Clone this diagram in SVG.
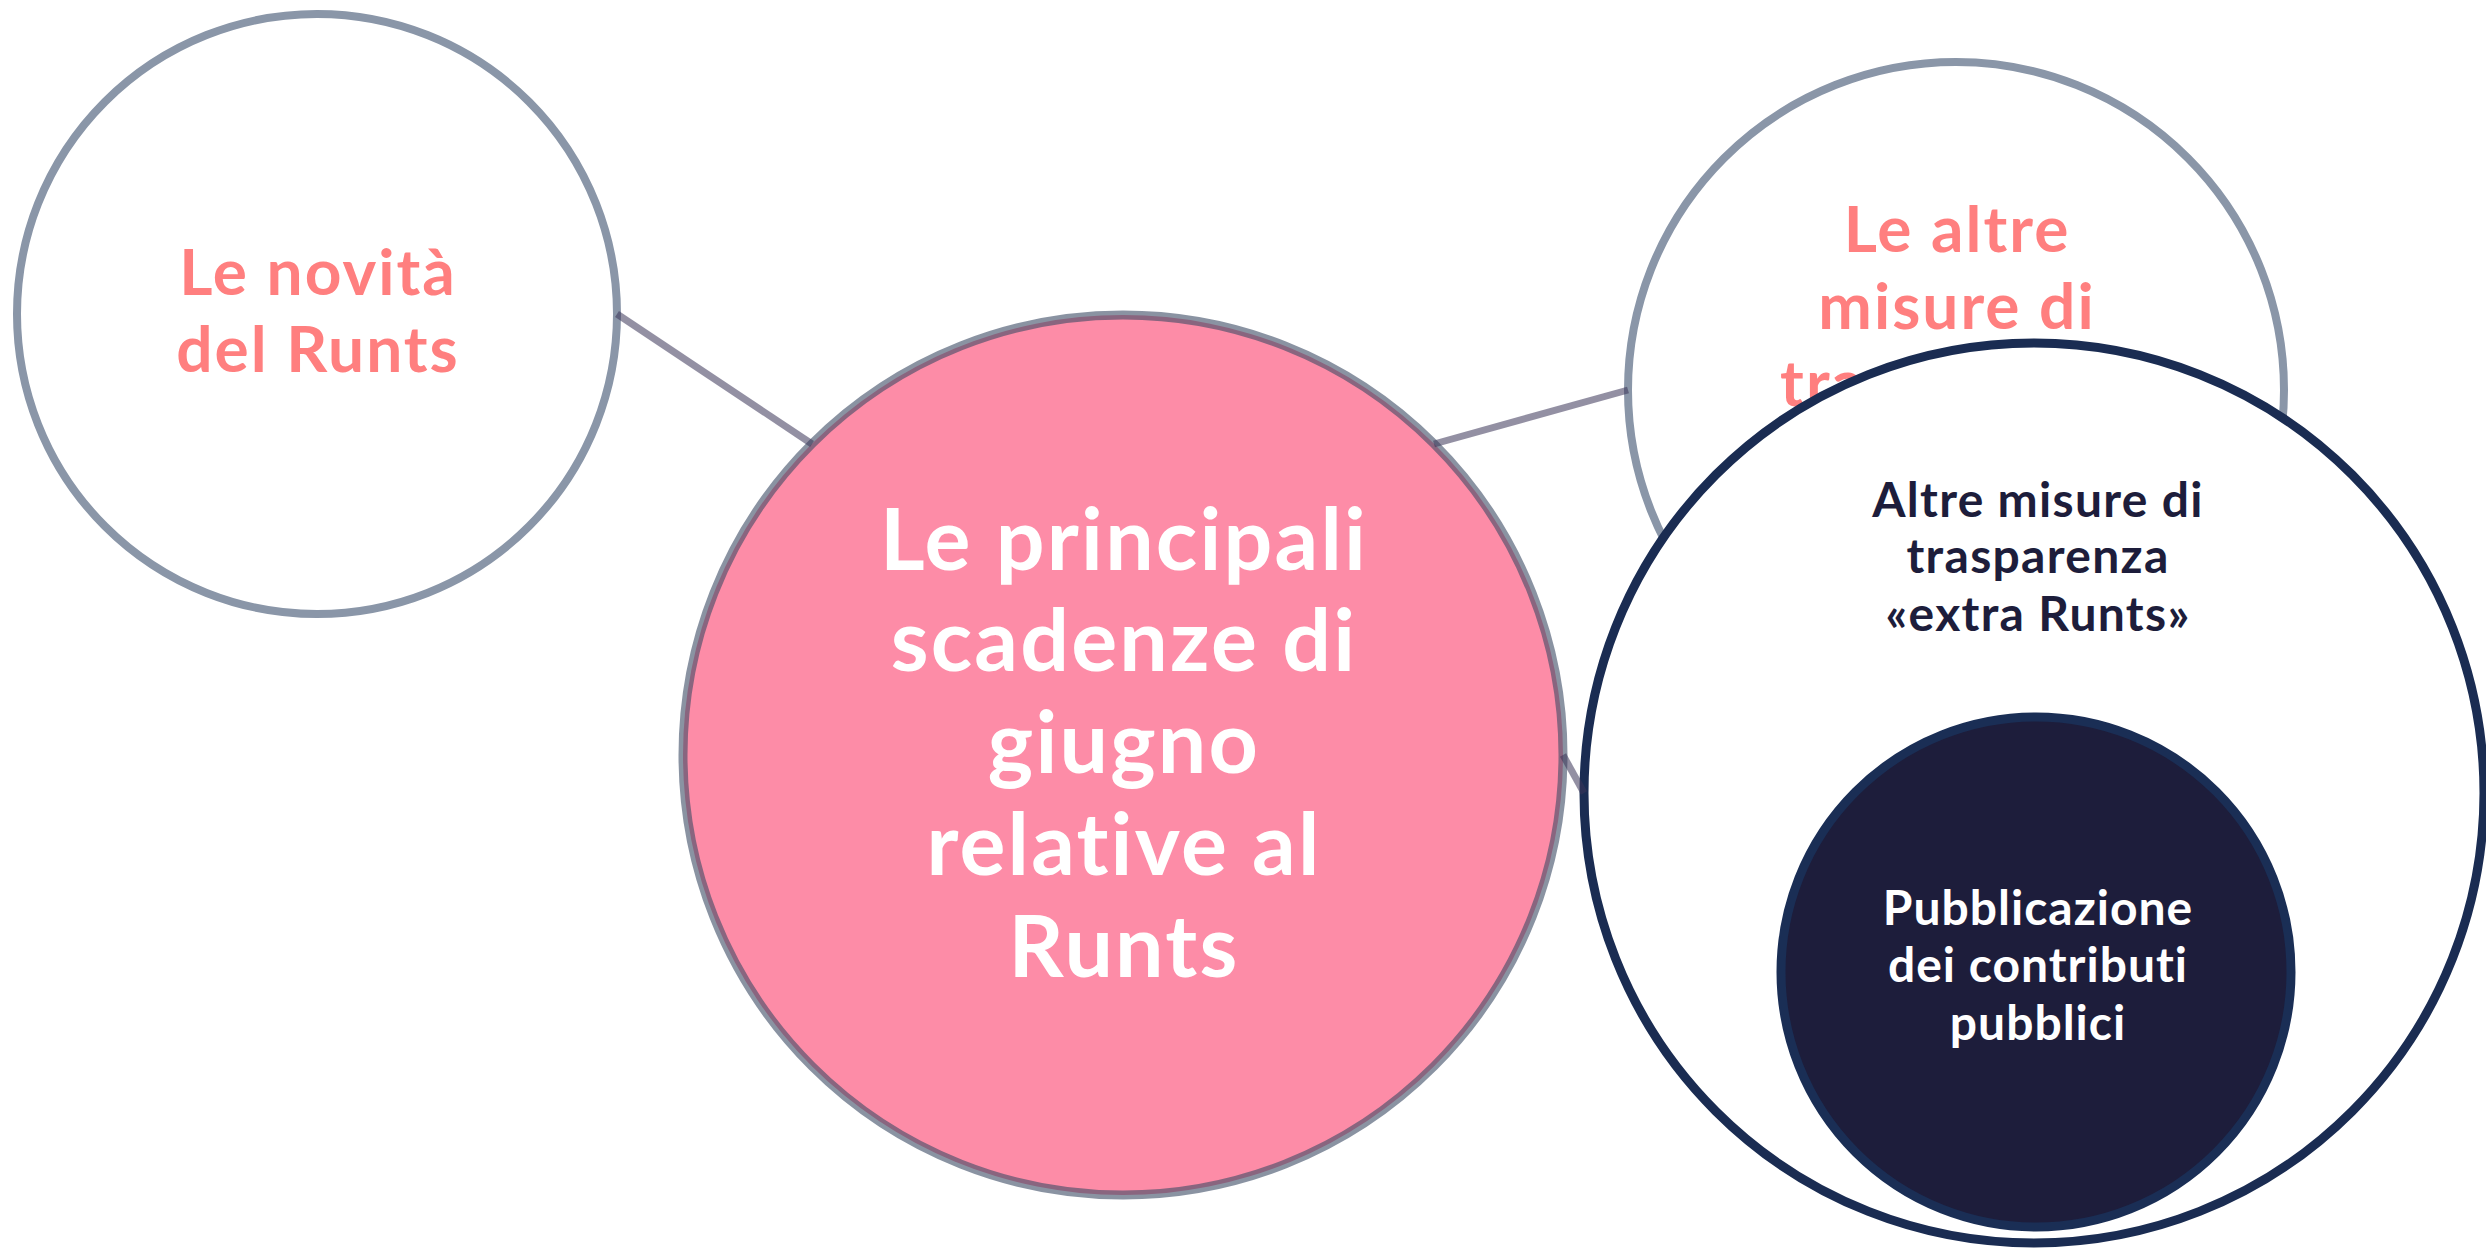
<svg xmlns="http://www.w3.org/2000/svg" width="2486" height="1248" viewBox="0 0 2486 1248">
<style>
.t{font-family:Lato,"Noto Sans","Liberation Sans",sans-serif;font-weight:700;text-anchor:middle}
.sal{fill:#ff7f7f;font-size:64px;letter-spacing:2px}
.wh{fill:#ffffff}
.big{font-size:86px;letter-spacing:2.2px}
.nav{fill:#1d1d3b;font-size:48px;letter-spacing:1.3px}
.sm{font-size:48px;letter-spacing:1px}
.ring{fill:#ffffff;stroke:#8a96a8;stroke-width:8}
.conn{stroke:#3a3558;stroke-opacity:0.55;stroke-width:7;fill:none}
</style>
<rect width="2486" height="1248" fill="#ffffff"/>
<g id="node-novita">
<circle class="ring" cx="317" cy="314" r="300"/>
<text class="t sal" x="318" y="295">Le novità</text>
<text class="t sal" x="318" y="372">del Runts</text>
</g>
<g id="node-altre">
<circle class="ring" cx="1956" cy="390" r="328"/>
<text class="t sal" x="1957" y="252">Le altre</text>
<text class="t sal" x="1957" y="329">misure di</text>
<text class="t sal" x="1957" y="406">trasparenza</text>
</g>
<g id="node-center">
<circle cx="1123" cy="755" r="440" fill="#fd8ca7" stroke="#3c4b64" stroke-opacity="0.6" stroke-width="9"/>
<text class="t wh big" x="1124" y="570">Le principali</text>
<text class="t wh big" x="1124" y="671">scadenze di</text>
<text class="t wh big" x="1124" y="773">giugno</text>
<text class="t wh big" x="1124" y="875">relative al</text>
<text class="t wh big" x="1124" y="977">Runts</text>
</g>
<g id="node-extra">
<circle cx="2034" cy="793" r="450" fill="#ffffff" stroke="#1a2c52" stroke-width="9"/>
<text class="t nav" x="2038" y="517">Altre misure di</text>
<text class="t nav" x="2038" y="573">trasparenza</text>
<text class="t nav" x="2038" y="631">«extra Runts»</text>
</g>
<g id="node-contributi">
<circle cx="2036" cy="972" r="255" fill="#1d1d3b" stroke="#1a2e55" stroke-width="9"/>
<text class="t wh sm" x="2038" y="925">Pubblicazione</text>
<text class="t wh sm" x="2038" y="982">dei contributi</text>
<text class="t wh sm" x="2038" y="1040">pubblici</text>
</g>
<g id="connectors">
<line class="conn" x1="617" y1="314" x2="812" y2="444"/>
<line class="conn" x1="1434" y1="444" x2="1628" y2="390"/>
<line class="conn" x1="1563" y1="755" x2="1584" y2="793"/>
</g>
</svg>
